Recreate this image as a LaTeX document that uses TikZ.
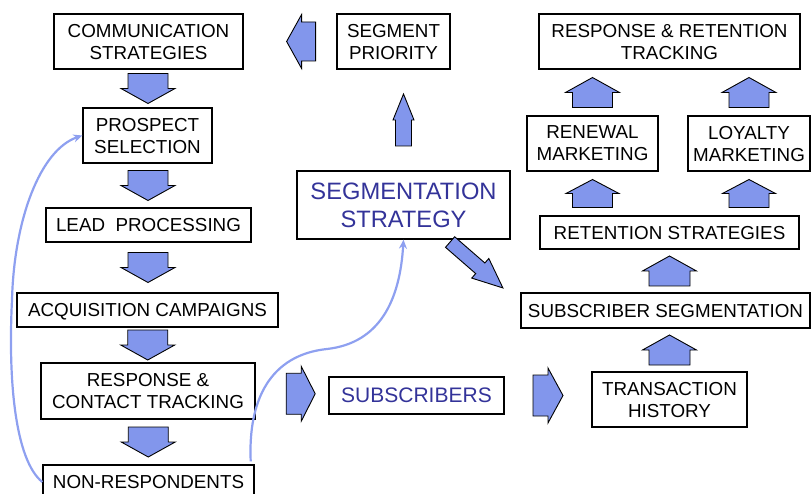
\documentclass[tikz,border=0pt]{standalone}
\usepackage{fontspec}
\setmainfont{Liberation Sans}
\usetikzlibrary{calc,arrows.meta}
\definecolor{arrowblue}{RGB}{130,150,236}
\definecolor{curveblue}{RGB}{142,160,240}
\definecolor{textblue}{RGB}{51,51,153}
\tikzset{
  box/.style={draw, line width=1.4pt, align=center, inner sep=0pt, text depth=-3pt,
    font=\fontsize{18.8}{22}\selectfont},
  bluebox/.style={box, text=textblue},
  arrfill/.style={draw=black, fill=arrowblue, line width=0.9pt},
  curve/.style={draw=curveblue, line width=2.2pt, -{Stealth[length=9pt,width=8pt]}},
  % fat arrow pointing along +x, centred on the origin: length/shaft/head/head length
  pics/blockarr/.style n args={4}{code={
    \draw[arrfill] (-#1/2,-#2/2) -- ({#1/2-#4},-#2/2) -- ({#1/2-#4},-#3/2)
      -- (#1/2,0) -- ({#1/2-#4},#3/2) -- ({#1/2-#4},#2/2) -- (-#1/2,#2/2) -- cycle;
  }},
}
\begin{document}
\begin{tikzpicture}[x=1pt,y=-1pt]
  \clip (0,0) rectangle (811,494);
  % acquisition column
  \node[box, minimum width=189, minimum height=55] (comm) at (148.5,41.5) {COMMUNICATION\\STRATEGIES};
  \node[box, minimum width=129, minimum height=55] (prospect) at (147.5,135.5) {PROSPECT\\SELECTION};
  \node[box, minimum width=205, minimum height=34] (lead) at (148.5,225) {LEAD~~PROCESSING};
  \node[box, minimum width=261, minimum height=34] (acq) at (147.5,310) {ACQUISITION CAMPAIGNS};
  \node[box, minimum width=214, minimum height=56] (resp) at (148,391) {RESPONSE \&\\CONTACT TRACKING};
  \node[box, minimum width=211, minimum height=34] (nonresp) at (148.5,482) {NON-RESPONDENTS};
  % middle
  \node[box, minimum width=113, minimum height=55] (prio) at (393.5,41.5) {SEGMENT\\PRIORITY};
  \node[bluebox, minimum width=213, minimum height=68, font=\fontsize{23.7}{28}\selectfont] (segstrat) at (403.5,205) {SEGMENTATION\\STRATEGY};
  \node[bluebox, minimum width=175, minimum height=37, font=\fontsize{21}{25}\selectfont] (subs) at (416.5,395.5) {SUBSCRIBERS};
  % retention column
  \node[box, minimum width=155, minimum height=55] (trans) at (669.5,399.5) {TRANSACTION\\HISTORY};
  \node[box, minimum width=289, minimum height=35] (subseg) at (665.5,310.5) {SUBSCRIBER SEGMENTATION};
  \node[box, minimum width=259, minimum height=33] (retain) at (669.5,232.5) {RETENTION STRATEGIES};
  \node[box, minimum width=131, minimum height=55] (renewal) at (592.5,143.5) {RENEWAL\\MARKETING};
  \node[box, minimum width=122, minimum height=55] (loyalty) at (749,143.5) {LOYALTY\\MARKETING};
  \node[box, minimum width=261, minimum height=55] (track) at (669.5,41.5) {RESPONSE \& RETENTION\\TRACKING};

  % fat arrows down the left column
  \foreach \a/\b in {comm/prospect,prospect/lead,lead/acq,acq/resp,resp/nonresp}
    \pic[rotate=-90] at ($(\a.south)!0.5!(\b.north)$) {blockarr={30}{40}{54}{15}};
  \pic[rotate=180] at ($(comm.east)!0.62!(prio.west)$) {blockarr={29}{39}{54}{15}};
  \pic at ($(resp.east)!0.62!(subs.west)$) {blockarr={29}{41}{55}{14}};
  \pic at ($(subs.east)!0.5!(trans.west |- subs.east)$) {blockarr={30}{41}{55}{15}};
  % fat arrows up the right column
  \pic[rotate=90] at ($(trans.north)!0.5!(trans.north |- subseg.south)$) {blockarr={30}{41}{54}{15}};
  \pic[rotate=90] at ($(retain.south)!0.5!(retain.south |- subseg.north)$) {blockarr={30}{41}{54}{15}};
  \foreach \b in {renewal,loyalty} {
    \pic[rotate=90] at ($(\b.south)!0.5!(\b.south |- retain.north)$) {blockarr={28}{40}{53}{14}};
    \pic[rotate=90] at ($(\b.north)!0.5!(\b.north |- track.south)$) {blockarr={30}{40}{54}{15}};
  }
  % thin arrows out of the segmentation strategy
  \pic[rotate=90] at ($(segstrat.north)!0.5!(segstrat.north |- prio.south)$) {blockarr={52}{16}{21}{26}};
  \pic[rotate=-41] at (476.5,265) {blockarr={70}{14}{26}{30}};

  % feedback curves
  \draw[curve] (nonresp.west) .. controls (15,460) and (8,380) .. (12,300)
    .. controls (14,220) and (40,150) .. (prospect.west);
  \draw[curve] ([xshift=-4pt,yshift=3pt]nonresp.north east) .. controls (248,400) and (270,355) .. (327,349)
    .. controls (380,343) and (400,300) .. (segstrat.south);
\end{tikzpicture}
\end{document}
